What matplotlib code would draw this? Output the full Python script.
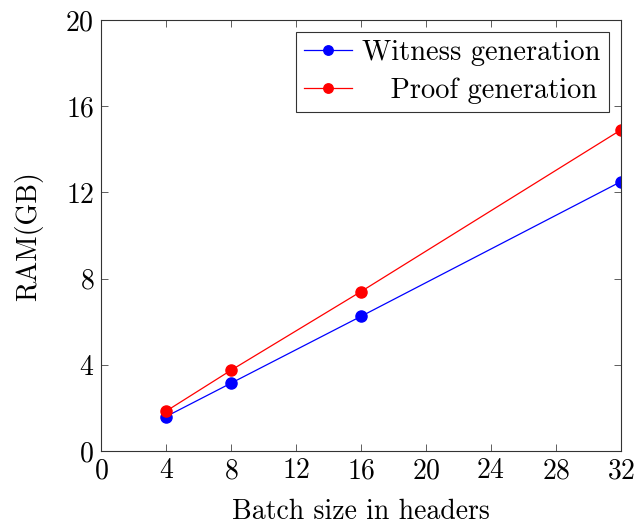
import matplotlib
matplotlib.use("Agg")
import matplotlib.pyplot as plt

batch = [4, 8, 16, 32]
witness = [1.6, 3.15, 6.25, 12.5]
proof = [1.85, 3.75, 7.4, 14.9]
xticks = [0, 4, 8, 12, 16, 20, 24, 28, 32]
yticks = [0, 4, 8, 12, 16, 20]

plt.rcParams['font.family'] = ['cmr10', 'DejaVu Serif']
plt.rcParams['mathtext.fontset'] = 'cm'
plt.rcParams['axes.formatter.use_mathtext'] = True

fs = 20
fig = plt.figure(figsize=(6.36, 5.30), dpi=100)
ax = fig.add_axes([0.159, 0.149, 0.817, 0.813])
ax.plot(batch, witness, color='blue', marker='o', markersize=8, linewidth=0.9, label='Witness generation')
ax.plot(batch, proof, color='red', marker='o', markersize=8, linewidth=0.9, label='   Proof generation')
ax.set_xlim(0, 32)
ax.set_ylim(0, 20)
ax.set_xticks(xticks)
ax.set_yticks(yticks)
ax.tick_params(direction='in', top=True, right=True, labelsize=fs, length=5, width=0.6, color='#444444', pad=5)
for s in ax.spines.values():
    s.set_linewidth(0.8)
    s.set_color('#333333')
ax.set_xlabel('Batch size in headers', fontsize=fs, labelpad=10)
ax.set_ylabel('RAM(GB)', fontsize=fs, labelpad=16)
leg = ax.legend(loc='upper right', fontsize=20.5, frameon=True, fancybox=False, edgecolor='black',
                borderpad=0.3, labelspacing=0.38, handlelength=1.7, handletextpad=0.35, borderaxespad=0.4,
                markerscale=0.85)
leg.get_frame().set_linewidth(0.8)
fig.savefig('out.png', dpi=100)
